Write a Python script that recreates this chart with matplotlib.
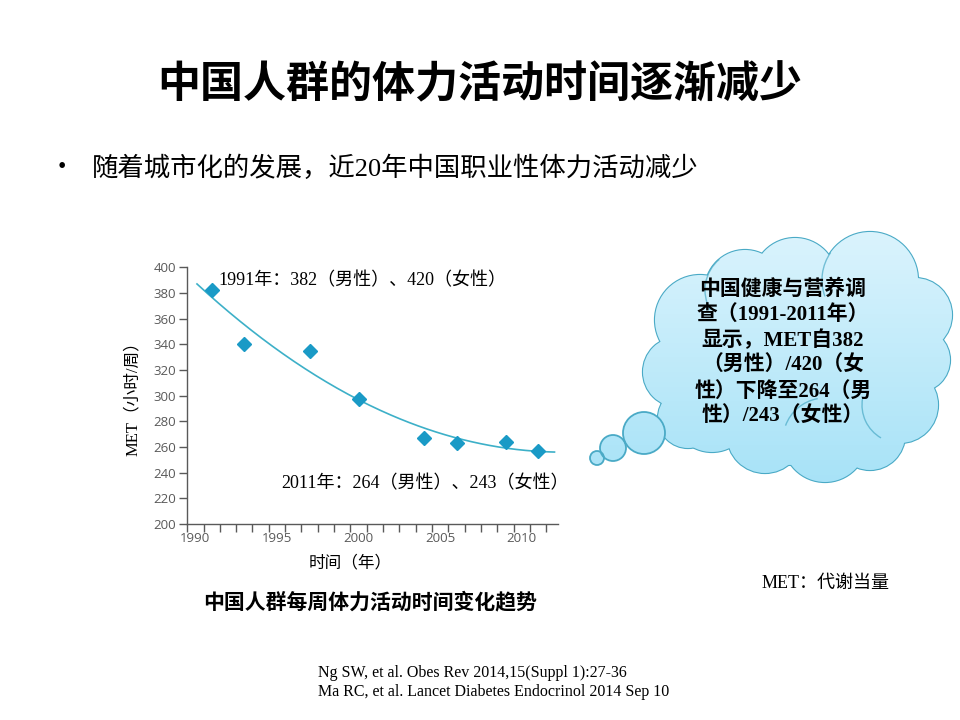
import numpy as np
import matplotlib
matplotlib.use("Agg")
import matplotlib.pyplot as plt
from matplotlib.patches import Circle, Arc

plt.rcParams['font.family'] = ['Noto Sans CJK SC', 'DejaVu Sans']

# --------------------
# Data
# --------------------
years = [1991, 1993, 1997, 2000, 2004, 2006, 2009, 2011]
met = [382, 340, 335, 297, 267, 263, 264, 257]
y_ticks = [200, 220, 240, 260, 280, 300, 320, 340, 360, 380, 400]
x_labels = [1990, 1995, 2000, 2005, 2010]

title = "中国人群的体力活动时间逐渐减少"
bullet = "随着城市化的发展，近20年中国职业性体力活动减少"
note_1991 = "1991年：382（男性）、420（女性）"
note_2011 = "2011年：264（男性）、243（女性）"
caption = "中国人群每周体力活动时间变化趋势"
met_note = "MET：代谢当量"
refs = ["Ng SW, et al. Obes Rev 2014,15(Suppl 1):27-36",
        "Ma RC, et al. Lancet Diabetes Endocrinol 2014 Sep 10"]
cloud_lines = ["中国健康与营养调",
               "查（1991-2011年）",
               "显示，MET自382",
               "（男性）/420（女",
               "性）下降至264（男",
               "性）/243（女性）"]

SERIF = ['Liberation Serif', 'Noto Sans CJK SC']
SANS = ['Noto Sans CJK SC', 'DejaVu Sans']

fig = plt.figure(figsize=(9.6, 7.2), dpi=100)

# overlay in pixel coordinates for slide texts and the cloud
ov = fig.add_axes([0, 0, 1, 1])
ov.set_xlim(0, 960)
ov.set_ylim(720, 0)
ov.axis('off')

ov.text(480, 84, title, ha='center', va='center', fontsize=31,
        fontweight='bold', family=SANS)
ov.text(62, 168, "•", ha='center', va='center', fontsize=19, family=SANS)
ov.text(92, 168, bullet, ha='left', va='center', fontsize=19, family=SERIF)

ov.text(370, 602, caption, ha='center', va='center', fontsize=15,
        fontweight='bold', family=SANS)
ov.text(762, 583, met_note, ha='left', va='center', fontsize=13, family=SERIF)
ov.text(318, 673, refs[0], ha='left', va='center', fontsize=11.5, family=SERIF)
ov.text(318, 692, refs[1], ha='left', va='center', fontsize=11.5, family=SERIF)

# --------------------
# Cloud
# --------------------
edge = "#4aaac6"
cloud = [(795, 360, 105), (700, 320, 45), (745, 290, 40), (795, 280, 42),
         (870, 280, 48), (915, 315, 37), (918, 360, 32), (900, 405, 38),
         (870, 435, 35), (825, 440, 42), (765, 435, 38), (712, 412, 40),
         (678, 372, 35), (688, 418, 30)]
bubbles = [(597, 458, 7), (613, 448, 13), (644, 433, 21)]

grad = np.linspace(0, 1, 256).reshape(-1, 1)
cmap = matplotlib.colors.LinearSegmentedColormap.from_list(
    "cl", ["#dcf4fd", "#a6e2f7"])

def fill_circle(cx, cy, r, z):
    c = Circle((cx, cy), r, facecolor='none', edgecolor='none',
               transform=ov.transData)
    ov.add_patch(c)
    im = ov.imshow(grad, cmap=cmap, extent=(590, 960, 490, 225),
                   aspect='auto', zorder=z, interpolation='bilinear')
    im.set_clip_path(c)

for cx, cy, r in cloud:
    ov.add_patch(Circle((cx, cy), r, facecolor='#c4ecfa', edgecolor=edge,
                        linewidth=1.6, zorder=2))
for cx, cy, r in cloud:
    fill_circle(cx, cy, r, 3)
# faint inner arcs of the cloud shape
for cx, cy, r, t1, t2 in [(745, 290, 40, 150, 230), (870, 280, 48, 160, 215),
                          (900, 405, 38, 120, 190), (825, 440, 42, 200, 260)]:
    ov.add_patch(Arc((cx, cy), 2 * r, 2 * r, theta1=t1, theta2=t2,
                     edgecolor=edge, linewidth=1.0, alpha=0.7, zorder=3.5))
for cx, cy, r in bubbles:
    fill_circle(cx, cy, r, 4)
    ov.add_patch(Circle((cx, cy), r, facecolor='none', edgecolor=edge,
                        linewidth=1.3, zorder=5))
ov.set_xlim(0, 960)
ov.set_ylim(720, 0)

line_y = [290, 315, 341, 366, 392, 417]
for s, yy in zip(cloud_lines, line_y):
    ov.text(783, yy, s, ha='center', va='center', fontsize=15,
            fontweight='bold', family=SERIF, zorder=6)

# --------------------
# Chart
# --------------------
ax = fig.add_axes([0.195, 0.272, 0.386, 0.357])
grey = "#595959"

coef = np.polyfit(years, met, 2)
xf = np.linspace(1990.1, 2012.0, 200)
ax.plot(xf, np.polyval(coef, xf), color="#3db0c8", linewidth=1.2)
ax.plot(years, met, linestyle='none', marker='D', markersize=7,
        color="#1a9ac6")

ax.set_xlim(1989.5, 2012.2)
ax.set_ylim(200, 400)
ax.set_yticks(y_ticks)
ax.set_xticks(x_labels)
ax.set_xticks(np.arange(1989.5, 2012, 1.0), minor=True)
ax.tick_params(axis='x', which='major', length=0, pad=6, labelsize=9.5,
               labelcolor=grey)
ax.tick_params(axis='x', which='minor', length=6, width=1, color=grey)
ax.tick_params(axis='y', length=6, width=1, color=grey, labelsize=9.5,
               labelcolor=grey, pad=2)
for lab in ax.get_xticklabels() + ax.get_yticklabels():
    lab.set_family(['Open Sans', 'DejaVu Sans'])
for sp in ['top', 'right']:
    ax.spines[sp].set_visible(False)
for sp in ['left', 'bottom']:
    ax.spines[sp].set_color(grey)
    ax.spines[sp].set_linewidth(1)
ax.patch.set_alpha(0)

ov.text(218, 281, note_1991, ha='left', va='center', fontsize=13, family=SERIF)
ov.text(281, 484, note_2011, ha='left', va='center', fontsize=13, family=SERIF)
ov.text(133, 395, "MET（小时/周）", ha='center', va='center', rotation=90,
        fontsize=12, family=SERIF)
ov.text(350, 563, "时间（年）", ha='center', va='center', fontsize=12,
        family=SANS)

fig.savefig("out.png", dpi=100)
